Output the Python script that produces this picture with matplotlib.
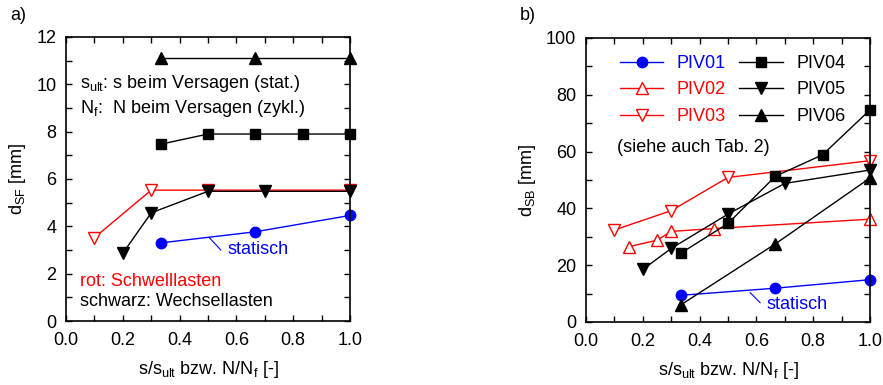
import matplotlib.pyplot as plt
from matplotlib.ticker import MultipleLocator, FormatStrFormatter

plt.rcParams['font.family'] = ['Liberation Sans', 'DejaVu Sans']
plt.rcParams['mathtext.fontset'] = 'custom'
plt.rcParams['mathtext.rm'] = 'Liberation Sans'
plt.rcParams['mathtext.it'] = 'Liberation Sans:italic'
plt.rcParams['font.size'] = 13

# --- a) d_SF ---
a_piv01_x = [1/3, 2/3, 1.0]
a_piv01_y = [3.3, 3.77, 4.46]
a_piv03_x = [0.1, 0.3, 0.5, 1.0]
a_piv03_y = [3.52, 5.53, 5.53, 5.53]
a_piv04_x = [1/3, 0.5, 2/3, 5/6, 1.0]
a_piv04_y = [7.47, 7.9, 7.9, 7.9, 7.9]
a_piv05_x = [0.2, 0.3, 0.5, 0.7, 1.0]
a_piv05_y = [2.86, 4.57, 5.48, 5.48, 5.48]
a_piv06_x = [1/3, 2/3, 1.0]
a_piv06_y = [11.1, 11.1, 11.1]

# --- b) d_SB ---
b_piv01_x = [1/3, 2/3, 1.0]
b_piv01_y = [9.4, 11.9, 14.9]
b_piv02_x = [0.15, 0.25, 0.3, 0.45, 1.0]
b_piv02_y = [26.5, 28.8, 31.9, 32.9, 36.2]
b_piv03_x = [0.1, 0.3, 0.5, 1.0]
b_piv03_y = [32.4, 39.2, 50.9, 56.8]
b_piv04_x = [1/3, 0.5, 2/3, 5/6, 1.0]
b_piv04_y = [24.2, 34.7, 51.3, 58.9, 74.7]
b_piv05_x = [0.2, 0.3, 0.5, 0.7, 1.0]
b_piv05_y = [18.5, 25.9, 38.0, 48.8, 53.5]
b_piv06_x = [1/3, 2/3, 1.0]
b_piv06_y = [6.0, 27.5, 50.7]

styles = {
    'PIV01': dict(color='blue', marker='o', ms=7.5, mfc='blue'),
    'PIV02': dict(color='red', marker='^', ms=8, mfc='white'),
    'PIV03': dict(color='red', marker='v', ms=8, mfc='white'),
    'PIV04': dict(color='black', marker='s', ms=7, mfc='black'),
    'PIV05': dict(color='black', marker='v', ms=8, mfc='black'),
    'PIV06': dict(color='black', marker='^', ms=8, mfc='black'),
}


def setup_axes(ax, ymax, ymajor, yminor):
    ax.set_xlim(0, 1)
    ax.set_ylim(0, ymax)
    ax.xaxis.set_major_locator(MultipleLocator(0.2))
    ax.xaxis.set_minor_locator(MultipleLocator(0.1))
    ax.xaxis.set_major_formatter(FormatStrFormatter('%.1f'))
    ax.yaxis.set_major_locator(MultipleLocator(ymajor))
    ax.yaxis.set_minor_locator(MultipleLocator(yminor))
    ax.tick_params(which='both', direction='in', top=True, right=True,
                   length=4, width=1)
    ax.tick_params(axis='x', which='major', pad=8)
    ax.tick_params(axis='y', which='major', pad=7)
    for s in ax.spines.values():
        s.set_linewidth(1.2)
    ax.set_xlabel(r'$\mathrm{s/s_{ult}}$ bzw. $\mathrm{N/N_f}$ [-]',
                  labelpad=7)


fig = plt.figure(figsize=(8.83, 3.85), dpi=100)
axa = fig.add_axes([66/883, 64/385, 284/883, 284/385])
axb = fig.add_axes([586/883, 63/385, 284/883, 284/385])

# panel a
for name, x, y in [('PIV01', a_piv01_x, a_piv01_y),
                   ('PIV03', a_piv03_x, a_piv03_y),
                   ('PIV05', a_piv05_x, a_piv05_y),
                   ('PIV04', a_piv04_x, a_piv04_y),
                   ('PIV06', a_piv06_x, a_piv06_y)]:
    axa.plot(x, y, lw=1, clip_on=False, **styles[name])
setup_axes(axa, 12, 2, 1)
axa.set_ylabel(r'$\mathrm{d_{SF}}$ [mm]', labelpad=6)
axa.text(0.05, 10.03, r'$\mathrm{s_{ult}}$: s beim Versagen (stat.)', va='center')
axa.text(0.05, 8.98, r'$\mathrm{N_f}$:  N beim Versagen (zykl.)', va='center')
axa.text(0.05, 1.66, 'rot: Schwelllasten', color='red', va='center')
axa.text(0.05, 0.82, 'schwarz: Wechsellasten', va='center')
axa.plot([0.504, 0.545], [3.53, 3.0], color='blue', lw=0.8)
axa.text(0.568, 3.0, 'statisch', color='blue', va='center')
fig.text(10/883, 1 - 15/385, 'a)', va='center')

# panel b
lines = []
for name, x, y in [('PIV01', b_piv01_x, b_piv01_y),
                   ('PIV02', b_piv02_x, b_piv02_y),
                   ('PIV03', b_piv03_x, b_piv03_y),
                   ('PIV04', b_piv04_x, b_piv04_y),
                   ('PIV05', b_piv05_x, b_piv05_y),
                   ('PIV06', b_piv06_x, b_piv06_y)]:
    ln, = axb.plot(x, y, lw=1, clip_on=False, label=name, **styles[name])
    lines.append(ln)
setup_axes(axb, 100, 20, 10)
axb.set_ylabel(r'$\mathrm{d_{SB}}$ [mm]', labelpad=6)
axb.legend(handles=lines, ncol=2, frameon=False, loc='upper left',
           bbox_to_anchor=(0.062, 0.997), handlelength=2.4, handletextpad=0.75,
           columnspacing=0.75, labelspacing=0.52, labelcolor='linecolor')
axb.text(0.109, 61.5, '(siehe auch Tab. 2)', va='center')
axb.plot([0.578, 0.613], [10.35, 6.8], color='blue', lw=0.8)
axb.text(0.637, 6.0, 'statisch', color='blue', va='center')
fig.text(520/883, 1 - 15/385, 'b)', va='center')

fig.savefig('out.png', dpi=100)
